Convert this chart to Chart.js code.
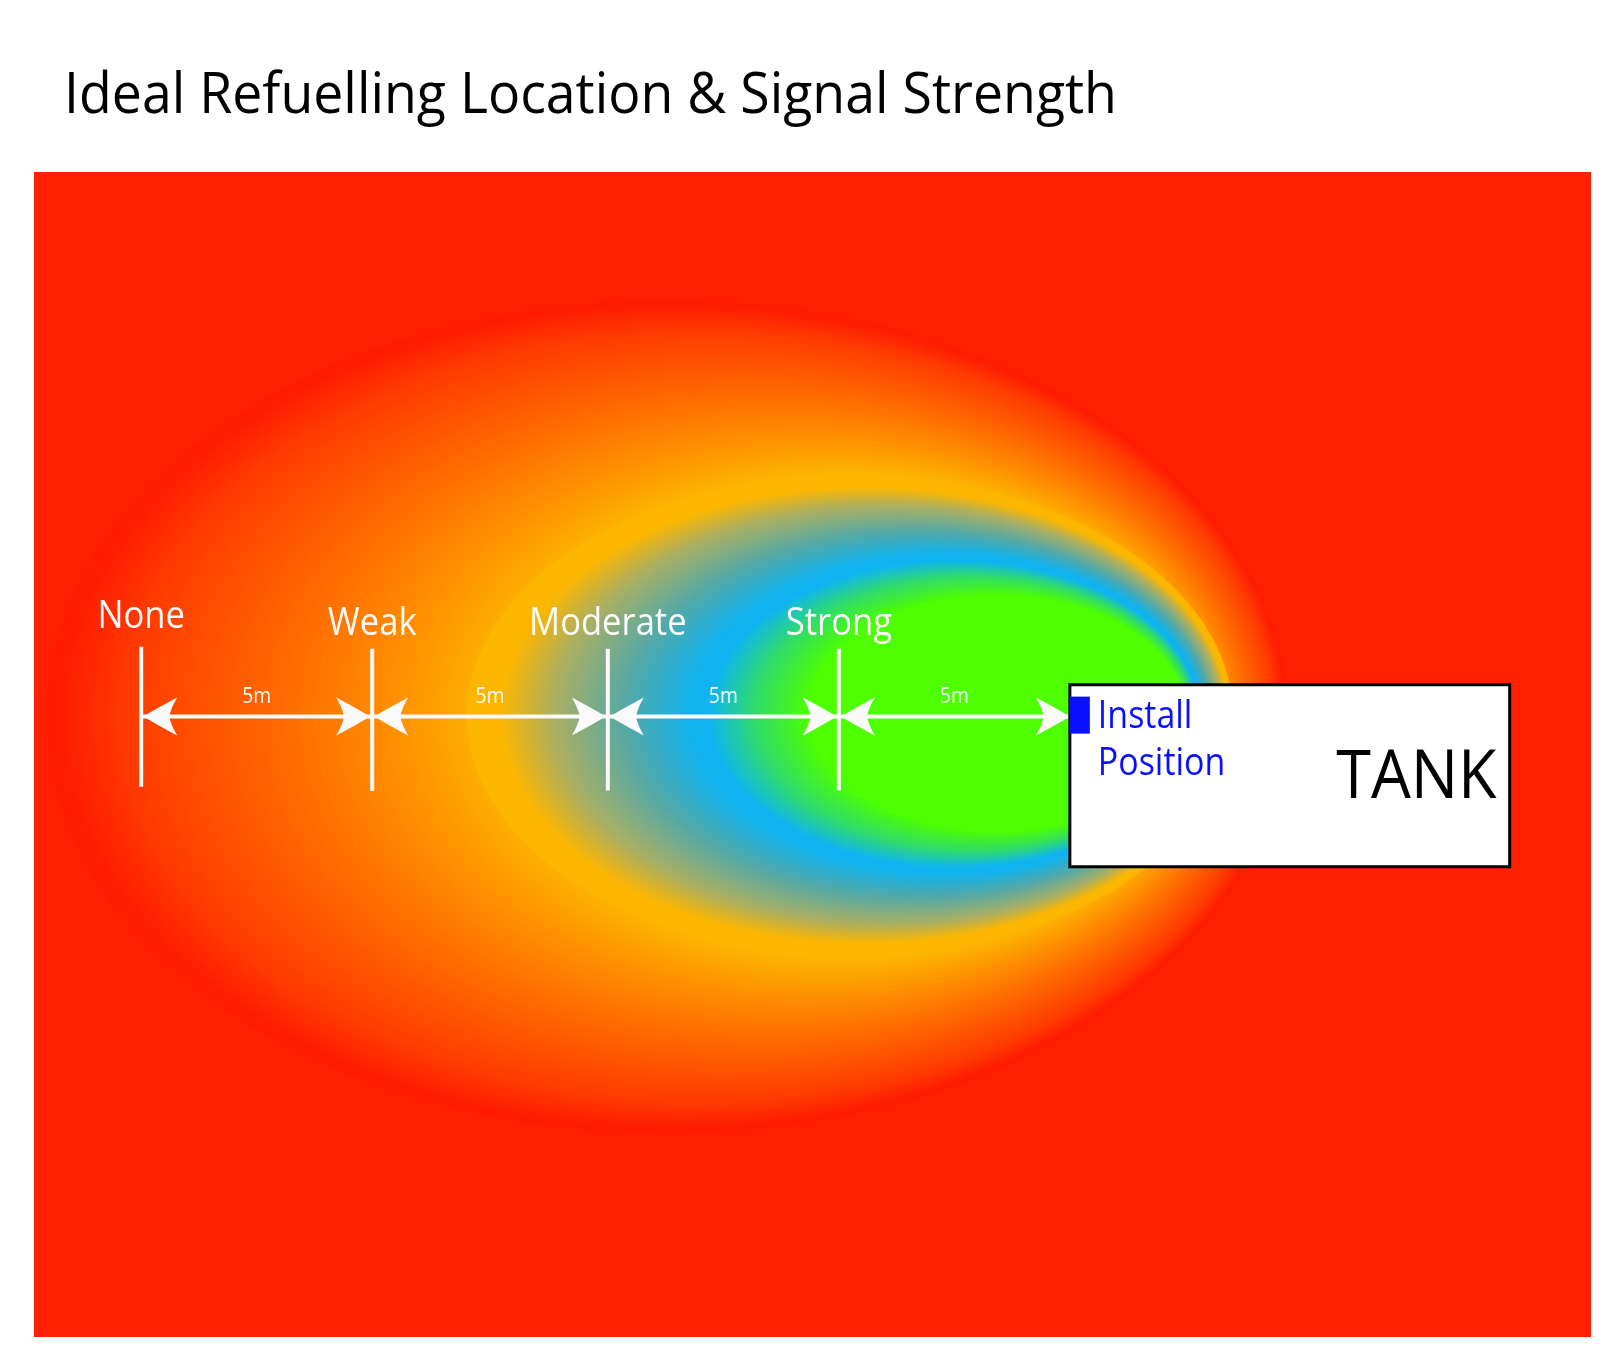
<!DOCTYPE html>
<html>
<head>
<meta charset="utf-8">
<title>Ideal Refuelling Location &amp; Signal Strength</title>
<script src="https://cdn.jsdelivr.net/npm/chart.js@4.4.1/dist/chart.umd.min.js"></script>
<style>
  html, body { margin: 0; padding: 0; background: #fff; }
  #wrap { width: 1615px; height: 1363px; }
</style>
</head>
<body>
<div id="wrap"><canvas id="signalChart" width="1615" height="1363"></canvas></div>
<script>
/* Signal strength around the tank sender — distances in metres, tank face = 0 */

var titleText = 'Ideal Refuelling Location & Signal Strength';

// strength markers along the centre line
var levelNames = ['None', 'Weak', 'Moderate', 'Strong'];
var levelDist = [-20.1, -15.1, -10.0, -5.0];
var levelTop = [1.51, 1.47, 1.47, 1.47];
var levelBottom = [-1.52, -1.61, -1.6, -1.6];
var spanText = ['5m', '5m', '5m', '5m'];

// the tank itself (metres)
var tankLeft = 0;
var tankRight = 9.52;
var tankTop = 0.69;
var tankBottom = -3.25;

// signal zones: outer reach (orange/red) and strong core (green/blue)
var zoneCx = [-8.72, -4.76];
var zoneCy = [0, 0.02];
var zoneRx = [13.44, 8.29];
var zoneRy = [9.03, 5.2];
var zoneFx = [0.71, 1.49];
var zoneFy = [0, 0.12];

var zoneStops = [
  [[0, '#fcb800'], [0.58, '#fcb500'], [0.68, '#ff8c00'], [0.8, '#ff6200'], [0.92, '#ff3c00'], [0.985, '#ff1e00'], [1, '#ff1c00']],
  [[0, '#4dff00'], [0.49, '#4dff00'], [0.57, '#30dc68'], [0.64, '#0fb4f2'], [0.67, '#12b2ec'], [0.76, '#52a9a8'], [0.87, '#aaaf62'], [0.95, '#fcb600'], [1, '#fcb600']]
];

var bgRed = '#ff2000';
var white = '#fafafa';
var blue = '#0a10ff';
var font = '"Open Sans", sans-serif';

function drawText(ctx, str, x, y, size, color, align, squeeze) {
  ctx.save();
  ctx.font = size + 'px ' + font;
  ctx.fillStyle = color;
  ctx.textAlign = align;
  ctx.textBaseline = 'alphabetic';
  ctx.translate(x, y);
  ctx.scale(squeeze, 1);
  ctx.fillText(str, 0, 0);
  ctx.restore();
}

function arrowHead(ctx, x, y, dir) {
  ctx.save();
  ctx.translate(x, y);
  ctx.scale(dir, 1);
  ctx.beginPath();
  ctx.moveTo(0, 0);
  ctx.quadraticCurveTo(-15, -9, -34, -19);
  ctx.quadraticCurveTo(-28, -9, -26, 0);
  ctx.quadraticCurveTo(-28, 9, -34, 19);
  ctx.quadraticCurveTo(-15, 9, 0, 0);
  ctx.closePath();
  ctx.fillStyle = white;
  ctx.fill();
  ctx.restore();
}

var fieldPlugin = {
  id: 'field',
  beforeDatasetsDraw: function (chart) {
    var ctx = chart.ctx;
    var a = chart.chartArea;
    var xs = chart.scales.x;
    var ys = chart.scales.y;
    ctx.save();
    ctx.fillStyle = bgRed;
    ctx.fillRect(a.left, a.top, a.right - a.left, a.bottom - a.top);
    ctx.beginPath();
    ctx.rect(a.left, a.top, a.right - a.left, a.bottom - a.top);
    ctx.clip();
    for (var i = 0; i < zoneCx.length; i++) {
      var cx = xs.getPixelForValue(zoneCx[i]);
      var cy = ys.getPixelForValue(zoneCy[i]);
      var rx = Math.abs(xs.getPixelForValue(zoneCx[i] + zoneRx[i]) - cx);
      var ry = Math.abs(ys.getPixelForValue(zoneCy[i] + zoneRy[i]) - cy);
      var fx = xs.getPixelForValue(zoneFx[i]);
      var fy = ys.getPixelForValue(zoneFy[i]);
      var k = rx / ry;
      ctx.save();
      ctx.translate(cx, cy);
      ctx.scale(k, 1);
      var g = ctx.createRadialGradient((fx - cx) / k, fy - cy, 0, 0, 0, ry);
      zoneStops[i].forEach(function (s) { g.addColorStop(s[0], s[1]); });
      ctx.fillStyle = g;
      ctx.beginPath();
      ctx.arc(0, 0, ry, 0, Math.PI * 2);
      ctx.fill();
      ctx.restore();
    }
    ctx.restore();
  },
  afterDatasetsDraw: function (chart) {
    var ctx = chart.ctx;
    var xs = chart.scales.x;
    var ys = chart.scales.y;
    var yMid = ys.getPixelForValue(0);
    var ends = levelDist.concat([tankLeft]);

    // arrow heads and span labels
    for (var i = 0; i < spanText.length; i++) {
      var x0 = xs.getPixelForValue(ends[i]);
      var x1 = xs.getPixelForValue(ends[i + 1]);
      arrowHead(ctx, x0 + 2, yMid, -1);
      arrowHead(ctx, i === spanText.length - 1 ? x1 : x1 - 2, yMid, 1);
      drawText(ctx, spanText[i], (x0 + x1) / 2, yMid - 14, 21, white, 'center', 0.92);
    }

    // strength labels above the markers
    for (var j = 0; j < levelNames.length; j++) {
      var lx = xs.getPixelForValue(levelDist[j]);
      var ly = ys.getPixelForValue(levelTop[j]) - (j === 0 ? 19 : 14);
      drawText(ctx, levelNames[j], lx, ly, 38, white, 'center', 0.91);
    }

    // tank
    var tl = xs.getPixelForValue(tankLeft);
    var tr = xs.getPixelForValue(tankRight);
    var tt = ys.getPixelForValue(tankTop);
    var tb = ys.getPixelForValue(tankBottom);
    ctx.save();
    ctx.fillStyle = '#ffffff';
    ctx.fillRect(tl, tt, tr - tl, tb - tt);
    ctx.lineWidth = 3;
    ctx.strokeStyle = '#000000';
    ctx.strokeRect(tl, tt, tr - tl, tb - tt);
    ctx.fillStyle = blue;
    ctx.fillRect(tl, yMid - 20, 20, 37);
    ctx.restore();
    drawText(ctx, 'Install', tl + 28, yMid + 11, 39, blue, 'left', 0.87);
    drawText(ctx, 'Position', tl + 28, yMid + 58, 39, blue, 'left', 0.87);
    drawText(ctx, 'TANK', tr - 13, yMid + 81, 67, '#000000', 'right', 0.94);

    // title
    ctx.save();
    ctx.font = '57px ' + font;
    var w = ctx.measureText(titleText).width;
    ctx.restore();
    drawText(ctx, titleText, 64, 113, 57, '#000000', 'left', 1053 / w);
  }
};

var datasets = [];
levelNames.forEach(function (name, i) {
  datasets.push({
    label: name,
    data: [{ x: levelDist[i], y: levelTop[i] }, { x: levelDist[i], y: levelBottom[i] }],
    showLine: true,
    borderColor: white,
    borderWidth: 4,
    borderCapStyle: 'butt',
    pointRadius: 0
  });
});
spanText.forEach(function (t, i) {
  var to = i < levelDist.length - 1 ? levelDist[i + 1] : tankLeft;
  datasets.push({
    label: 'span ' + (i + 1),
    data: [{ x: levelDist[i], y: 0 }, { x: to, y: 0 }],
    showLine: true,
    borderColor: white,
    borderWidth: 4,
    pointRadius: 0
  });
});

new Chart(document.getElementById('signalChart'), {
  type: 'scatter',
  data: { datasets: datasets },
  options: {
    responsive: false,
    animation: false,
    events: [],
    layout: { padding: { left: 34, right: 24, top: 172, bottom: 26 } },
    plugins: {
      legend: { display: false },
      tooltip: { enabled: false },
      title: { display: false }
    },
    scales: {
      x: { type: 'linear', min: -22.42, max: 11.28, display: false },
      y: { type: 'linear', min: -13.43, max: 11.79, display: false }
    }
  },
  plugins: [fieldPlugin]
});
</script>
</body>
</html>
